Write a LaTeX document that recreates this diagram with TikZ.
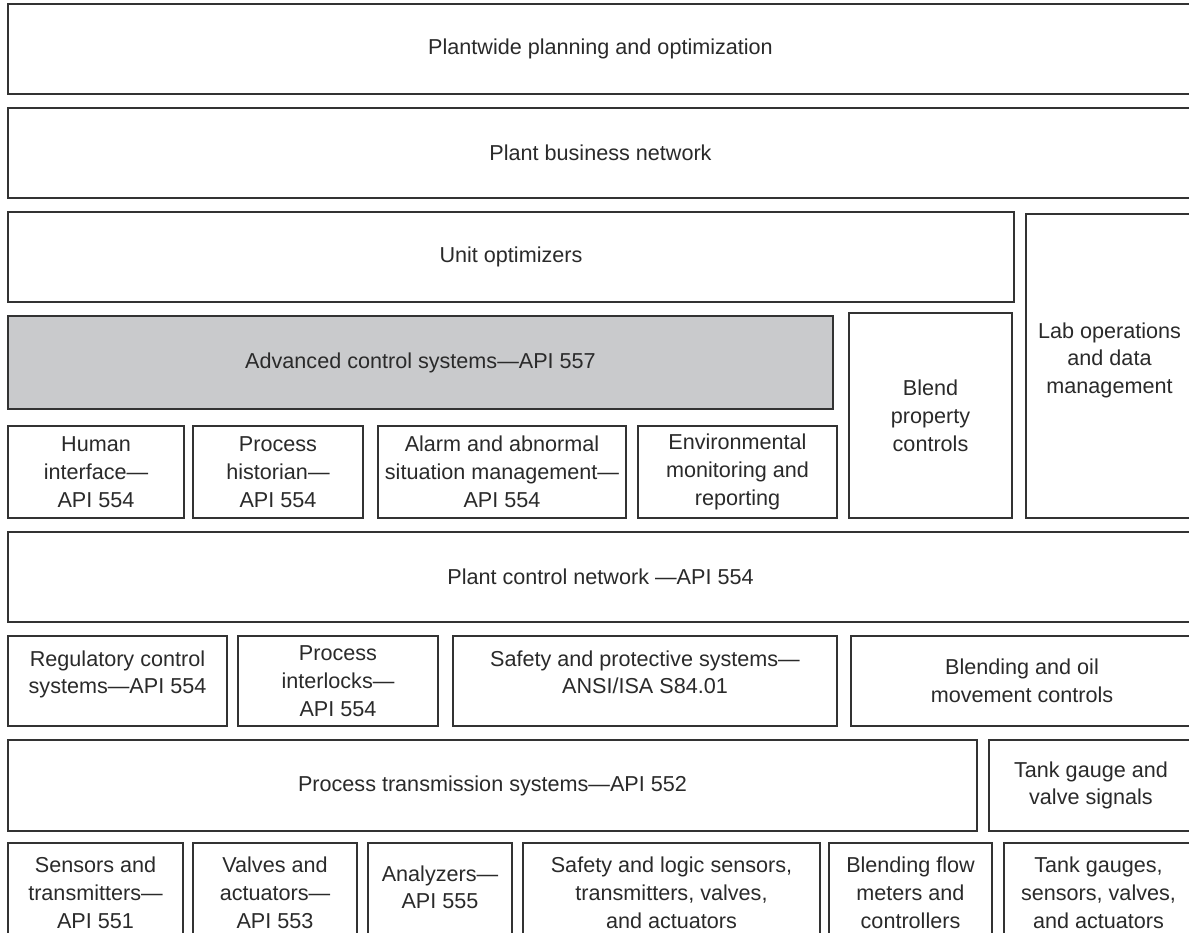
\documentclass[tikz,border=0pt]{standalone}
\usepackage{fontspec}
\setmainfont{Liberation Sans}
\definecolor{edge}{HTML}{333333}
\definecolor{ink}{HTML}{2A2A2A}
\definecolor{shade}{HTML}{C9CACC}
\tikzset{
  box/.style={draw=edge, line width=1.7pt, fill=white, rectangle, align=center,
    inner sep=0pt, text=ink, font=\fontsize{21.6}{27.8}\selectfont},
  greybox/.style={box, fill=shade}
}
\begin{document}
\begin{tikzpicture}[x=1pt,y=-1pt]
\useasboundingbox (0,0) rectangle (1189,932);
\clip (0,0) rectangle (1189,932);
\fill[white] (0,0) rectangle (1189,932);
% row 1-3
\node[box, minimum width=1185pt, minimum height=90pt] (plan) at (600.5,49) {Plantwide planning and optimization};
\node[box, minimum width=1185pt, minimum height=90pt] (biz) at (600.5,153) {Plant business network};
\node[box, minimum width=1006pt, minimum height=90pt] (unit) at (511,257) {Unit optimizers};
\node[box, minimum width=167pt, minimum height=304pt] (lab) at (1109.5,366) {Lab operations\\and data\\management\\[-12pt]};
\node[greybox, minimum width=825pt, minimum height=93pt] (adv) at (420.5,362.5) {Advanced control systems---API 557};
\node[box, minimum width=163pt, minimum height=205pt] (blend) at (930.5,415.5) {Blend\\property\\controls};
% row of applications
\node[box, minimum width=176pt, minimum height=92pt] (human) at (96,472) {Human\\interface---\\API 554};
\node[box, minimum width=170pt, minimum height=92pt] (hist) at (278,472) {Process\\historian---\\API 554};
\node[box, minimum width=248pt, minimum height=92pt] (alarm) at (502,472) {Alarm and abnormal\\situation management---\\API 554};
\node[box, minimum width=199pt, minimum height=92pt] (env) at (737.5,472) {Environmental\\monitoring and\\reporting};
% control network
\node[box, minimum width=1185pt, minimum height=90pt] (pcn) at (600.5,577) {Plant control network ---API 554};
% control systems
\node[box, minimum width=219pt, minimum height=90pt] (reg) at (117.5,681) {Regulatory control\\systems---API 554\\[-10pt]};
\node[box, minimum width=200pt, minimum height=90pt] (inter) at (338,681) {Process\\interlocks---\\API 554};
\node[box, minimum width=384pt, minimum height=90pt] (safe) at (645,681) {Safety and protective systems---\\ANSI/ISA S84.01\\[-10pt]};
\node[box, minimum width=342pt, minimum height=90pt] (boil) at (1022,681) {Blending and oil\\movement controls};
% transmission
\node[box, minimum width=969pt, minimum height=91pt] (pts) at (492.5,785.5) {Process transmission systems---API 552};
\node[box, minimum width=204pt, minimum height=91pt] (tgv) at (1091,785.5) {Tank gauge and\\valve signals};
% field devices
\node[box, minimum width=175pt, minimum height=100pt] (sens) at (95.5,893) {Sensors and\\transmitters---\\API 551};
\node[box, minimum width=164pt, minimum height=100pt] (valv) at (275,893) {Valves and\\actuators---\\API 553};
\node[box, minimum width=144pt, minimum height=100pt] (anal) at (440,893) {Analyzers---\\API 555\\[-16pt]};
\node[box, minimum width=297pt, minimum height=100pt] (slog) at (671.5,893) {Safety and logic sensors,\\transmitters, valves,\\and actuators};
\node[box, minimum width=163pt, minimum height=100pt] (bflow) at (910.5,893) {Blending flow\\meters and\\controllers};
\node[box, minimum width=189pt, minimum height=100pt] (tgs) at (1098.5,893) {Tank gauges,\\sensors, valves,\\and actuators};
\end{tikzpicture}
\end{document}
